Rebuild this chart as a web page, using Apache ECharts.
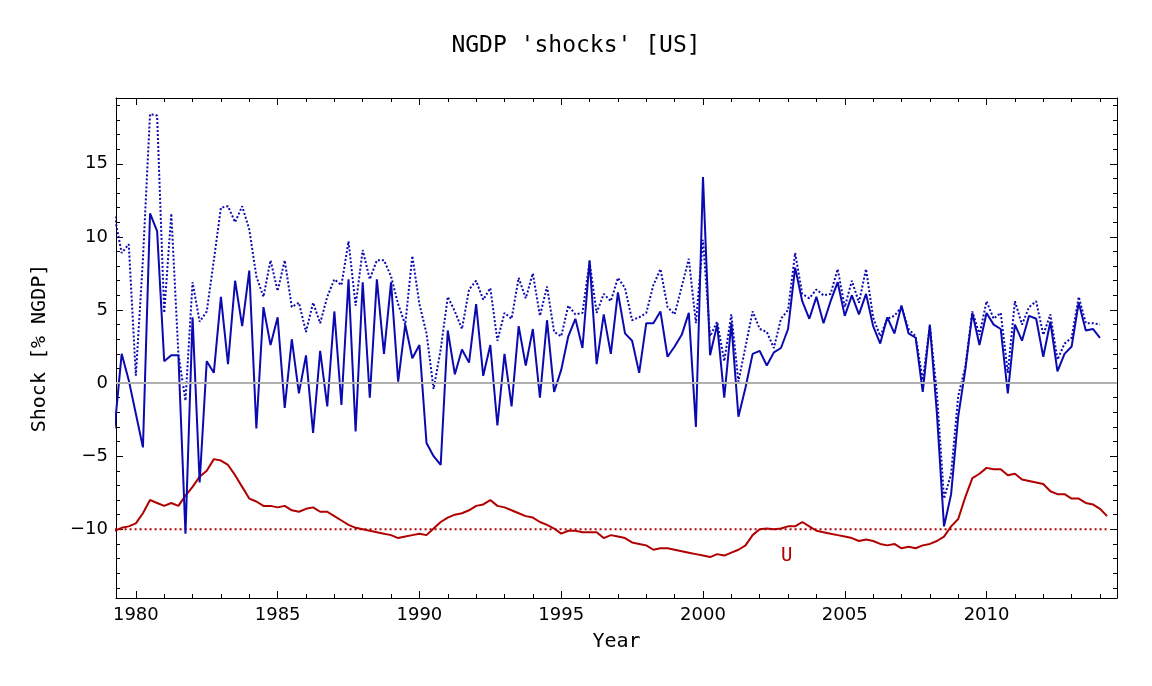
<!DOCTYPE html>
<html><head><meta charset="utf-8">
<script src="https://cdn.jsdelivr.net/npm/echarts@6/dist/echarts.min.js"></script>
<style>html,body{margin:0;padding:0;background:#fff}#c{width:1152px;height:686px}</style>
</head><body><div id="c"></div>
<script>
const startYear = 1979.25, stepYear = 0.25;
const shockSolid = [-3.1,2.0,0.2,-2.1,-4.4,11.6,10.4,1.5,1.9,1.9,-10.3,4.5,-6.8,1.5,0.7,5.9,1.3,7.0,3.9,7.7,-3.1,5.2,2.6,4.5,-1.7,3.0,-0.7,1.9,-3.4,2.2,-1.6,4.9,-1.5,7.1,-3.3,6.9,-1.0,7.1,2.0,6.9,0.1,4.0,1.7,2.6,-4.1,-5.0,-5.6,3.6,0.6,2.3,1.4,5.4,0.5,2.6,-2.9,2.0,-1.6,3.9,1.2,3.7,-1.0,4.3,-0.6,0.9,3.2,4.4,2.4,8.4,1.3,4.7,2.0,6.2,3.4,2.9,0.7,4.1,4.1,4.9,1.8,2.5,3.3,4.8,-3.0,14.1,1.9,4.0,-1.0,4.1,-2.3,-0.3,2.0,2.2,1.2,2.1,2.4,3.7,7.9,5.6,4.4,5.9,4.1,5.6,6.9,4.6,6.0,4.7,6.1,3.9,2.7,4.5,3.4,5.3,3.4,3.1,-0.6,4.0,-2.1,-9.8,-7.6,-2.3,0.9,4.8,2.6,4.8,4.0,3.7,-0.7,4.0,2.9,4.6,4.4,1.8,4.2,0.8,2.0,2.5,5.5,3.6,3.7,3.1];
const shockDotted = [11.4,8.9,9.5,0.5,8.5,18.4,18.3,4.8,11.6,2.0,-1.2,6.9,4.2,4.9,8.4,12.0,12.1,11.0,12.1,10.5,7.3,5.9,8.4,6.3,8.4,5.2,5.5,3.5,5.5,4.1,5.9,7.1,6.7,9.7,5.3,9.1,7.1,8.4,8.4,7.3,5.4,4.0,8.7,5.4,3.4,-0.4,2.3,5.9,4.9,3.7,6.4,7.0,5.7,6.5,2.9,4.8,4.4,7.2,5.8,7.5,4.6,6.6,3.5,3.2,5.3,4.7,4.8,8.3,4.8,6.1,5.6,7.2,6.5,4.3,4.5,4.8,6.7,7.8,5.2,4.7,6.6,8.5,4.1,9.8,3.2,4.2,1.5,4.7,0.1,2.5,4.9,3.7,3.5,2.4,4.4,5.0,8.9,6.1,5.8,6.4,6.0,6.1,7.8,5.2,7.0,5.5,7.8,4.5,3.2,4.4,4.6,5.2,3.7,3.2,0.2,3.9,-0.7,-7.9,-6.2,-0.9,1.1,4.9,3.3,5.6,4.4,4.8,0.7,5.6,4.0,5.2,5.6,3.3,4.7,1.6,2.7,3.1,5.9,4.1,4.1,4.0];
const unemp = [-10.1,-9.9,-9.8,-9.6,-8.9,-8.0,-8.2,-8.4,-8.2,-8.4,-7.7,-7.1,-6.4,-6.0,-5.2,-5.3,-5.6,-6.3,-7.1,-7.9,-8.1,-8.4,-8.4,-8.5,-8.4,-8.7,-8.8,-8.6,-8.5,-8.8,-8.8,-9.1,-9.4,-9.7,-9.9,-10.0,-10.1,-10.2,-10.3,-10.4,-10.6,-10.5,-10.4,-10.3,-10.4,-9.95,-9.5,-9.2,-9.0,-8.9,-8.7,-8.4,-8.3,-8.0,-8.4,-8.5,-8.7,-8.9,-9.1,-9.2,-9.5,-9.7,-9.95,-10.3,-10.1,-10.1,-10.2,-10.2,-10.2,-10.6,-10.4,-10.5,-10.6,-10.9,-11.0,-11.1,-11.4,-11.3,-11.3,-11.4,-11.5,-11.6,-11.7,-11.8,-11.9,-11.7,-11.8,-11.6,-11.4,-11.1,-10.4,-10.0,-9.95,-10.0,-9.95,-9.8,-9.8,-9.5,-9.8,-10.1,-10.2,-10.3,-10.4,-10.5,-10.6,-10.8,-10.7,-10.8,-11.0,-11.1,-11.0,-11.3,-11.2,-11.3,-11.1,-11.0,-10.8,-10.5,-9.8,-9.3,-7.8,-6.5,-6.2,-5.8,-5.9,-5.9,-6.3,-6.2,-6.6,-6.7,-6.8,-6.9,-7.4,-7.6,-7.6,-7.9,-7.9,-8.2,-8.3,-8.6,-9.1];
const xTicks = [1980,1985,1990,1995,2000,2005,2010];
const yTicks = [-10,-5,0,5,10,15];
const unempRef = -10;

const pts = arr => arr.map((v,i)=>[startYear+i*stepYear, v]);
const refLine = unemp.map((v,i)=>[startYear+i*stepYear, unempRef]);
const xMinor = [], yMinor = [];
for (let y=1980; y<=2014; y++) xMinor.push(y);
for (let v=-14; v<=19; v++) yMinor.push(v);
const mono = '"DejaVu Sans Mono", monospace';
const blue = '#0a0ab0', red = '#b00000';
const tickStyle = {color:'#000'};
function xa(pos, show){
  return {type:'value', position:pos, min:1979.3, max:2014.6,
    axisLine:{onZero:false, lineStyle:tickStyle},
    axisTick:{inside:true, length:7, customValues:xTicks, lineStyle:tickStyle},
    axisLabel:{show:show, fontFamily:'DejaVu Sans', fontSize:18, color:'#000', customValues:xTicks, formatter:v=>String(v)},
    splitLine:{show:false}};
}
function xm(pos){
  return {type:'value', position:pos, min:1979.3, max:2014.6, axisLine:{show:false, onZero:false},
    axisTick:{inside:true, length:4, customValues:xMinor, lineStyle:tickStyle},
    axisLabel:{show:false, customValues:xMinor}, splitLine:{show:false}};
}
function ya(pos, show){
  return {type:'value', position:pos, min:-14.7, max:19.5,
    axisLine:{onZero:false, lineStyle:tickStyle},
    axisTick:{inside:true, length:7, customValues:yTicks, lineStyle:tickStyle},
    axisLabel:{show:show, fontFamily:'DejaVu Sans', fontSize:18, color:'#000', customValues:yTicks, formatter:v=>String(v).replace('-','−')},
    splitLine:{show:false}};
}
function ym(pos){
  return {type:'value', position:pos, min:-14.7, max:19.5, axisLine:{show:false, onZero:false},
    axisTick:{inside:true, length:4, customValues:yMinor, lineStyle:tickStyle},
    axisLabel:{show:false, customValues:yMinor}, splitLine:{show:false}};
}
const xAxes = [xa('bottom', true), xa('top', false), xm('bottom'), xm('top')];
xAxes[0].name='Year'; xAxes[0].nameLocation='middle'; xAxes[0].nameGap=34;
xAxes[0].nameTextStyle={fontFamily:mono, fontSize:20, color:'#000'};
const yAxes = [ya('left', true), ya('right', false), ym('left'), ym('right')];
yAxes[0].name='Shock [% NGDP]'; yAxes[0].nameLocation='middle'; yAxes[0].nameGap=66;
yAxes[0].nameTextStyle={fontFamily:mono, fontSize:20, color:'#000'};

const chart = echarts.init(document.getElementById('c'));
chart.setOption({
  animation:false,
  title:{text:"NGDP 'shocks' [US]", left:'center', top:30, textStyle:{fontFamily:mono, fontSize:23, fontWeight:'normal', color:'#000'}},
  grid:{left:116, right:35, top:98, bottom:88},
  xAxis:xAxes, yAxis:yAxes,
  series:[
    {type:'line', data:refLine, symbol:'none', lineStyle:{color:red, width:2, type:[2,3]}},
    {type:'line', data:pts(unemp), symbol:'none', lineStyle:{color:red, width:2},
      markLine:{silent:true, symbol:'none', label:{show:false}, data:[{yAxis:0}], lineStyle:{color:'#b0b0b0', type:'solid', width:2}},
      markPoint:{symbol:'circle', symbolSize:0, data:[{coord:[2002.95,-11.8], label:{show:true, formatter:'U', color:red, fontFamily:mono, fontSize:19}}]}},
    {type:'line', data:pts(shockDotted), symbol:'none', lineStyle:{color:blue, width:2, type:[2,2]}},
    {type:'line', data:pts(shockSolid), symbol:'none', lineStyle:{color:blue, width:2}}
  ]
});
</script></body></html>
